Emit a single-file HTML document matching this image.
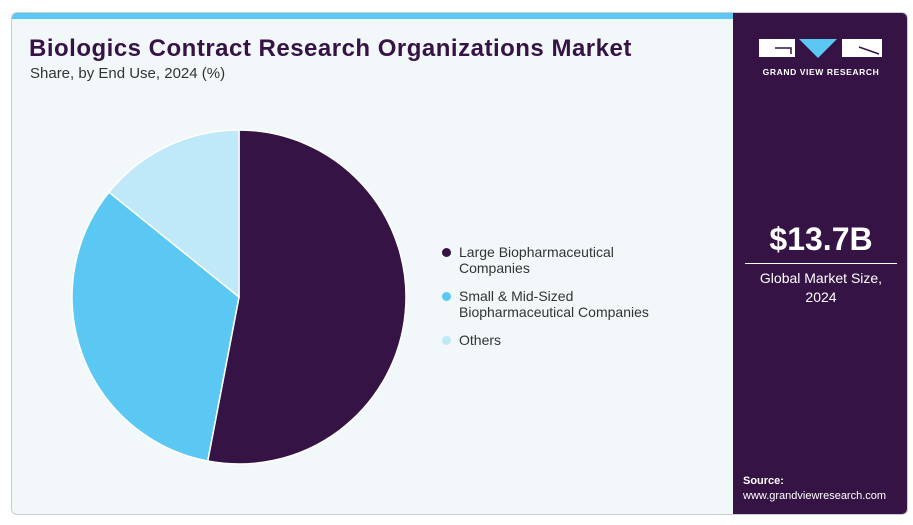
<!DOCTYPE html>
<html><head><meta charset="utf-8"><style>
body{margin:0;width:913px;height:525px;background:#fff;font-family:"Liberation Sans",sans-serif;overflow:hidden;position:relative}
#card{position:absolute;left:11px;top:12px;width:897px;height:503px;border:1px solid #c9ccd0;border-radius:6px;background:#f2f7fa;overflow:hidden;box-sizing:border-box}
#bar{position:absolute;left:0;top:0;width:721px;height:6px;background:#5ac8f2}
#side{position:absolute;left:721px;top:0;width:176px;height:503px;background:#361345;color:#fff}
h1{position:absolute;left:17px;top:22px;margin:0;font-size:24px;font-weight:900;color:#361345;white-space:nowrap;letter-spacing:0.5px}
#sub{position:absolute;left:18px;top:52px;font-size:15px;color:#333}
.leg{position:absolute;left:430px;font-size:14px;color:#333;line-height:16px}
.dot{position:absolute;left:0;top:4px;width:9px;height:9px;border-radius:50%}
.leg span.t{display:block;margin-left:17px}
</style></head><body>
<div id="card">
<div id="bar"></div>
<h1>Biologics Contract Research Organizations Market</h1>
<div id="sub">Share, by End Use, 2024 (%)</div>
<svg id="pie" width="720" height="503" style="position:absolute;left:0;top:0"></svg>
<div class="leg" style="top:231px"><div class="dot" style="background:#361345"></div><span class="t">Large Biopharmaceutical<br>Companies</span></div>
<div class="leg" style="top:275px"><div class="dot" style="background:#5ac8f2"></div><span class="t">Small &amp; Mid-Sized<br>Biopharmaceutical Companies</span></div>
<div class="leg" style="top:319px"><div class="dot" style="background:#bfe8f8"></div><span class="t">Others</span></div>
<div id="side">
<svg width="176" height="60" style="position:absolute;left:0;top:20px">
<rect x="26" y="6" width="36" height="18" fill="#fff"/><path d="M42 15 H58 V21" stroke="#361345" stroke-width="1.5" fill="none"/>
<polygon points="66,6 104,6 85,25" fill="#5ac8f2"/>
<rect x="109" y="6" width="40" height="18" fill="#fff"/><path d="M126 14 L146 21" stroke="#361345" stroke-width="1.5"/>
<text x="88" y="42" font-size="8.5" font-weight="bold" fill="#fff" text-anchor="middle" font-family="Liberation Sans" letter-spacing="0.6">GRAND VIEW RESEARCH</text>
</svg>
<div style="position:absolute;left:0;width:176px;top:208px;text-align:center;font-size:32px;font-weight:bold">$13.7B</div>
<div style="position:absolute;left:12px;width:152px;top:250px;border-top:1px solid #fff"></div>
<div style="position:absolute;left:0;width:176px;top:256px;text-align:center;font-size:14px;line-height:19px">Global Market Size,<br>2024</div>
<div style="position:absolute;left:10px;top:461px;font-size:11px;line-height:15px"><b>Source:</b><br>www.grandviewresearch.com</div>
</div>
</div>
<script>
const categories=["Large Biopharmaceutical Companies","Small & Mid-Sized Biopharmaceutical Companies","Others"];
const values=[53.0,32.8,14.2];
const colors=["#361345","#5ac8f2","#bfe8f8"];
const svg=document.getElementById('pie');
const cx=227,cy=284,r=167;
const total=values.reduce((a,b)=>a+b,0);
let a0=0;
values.forEach((v,i)=>{
 const a1=a0+v/total*2*Math.PI;
 const x0=cx+r*Math.sin(a0),y0=cy-r*Math.cos(a0),x1=cx+r*Math.sin(a1),y1=cy-r*Math.cos(a1);
 const p=document.createElementNS('http://www.w3.org/2000/svg','path');
 p.setAttribute('d',`M${cx},${cy} L${x0},${y0} A${r},${r} 0 ${a1-a0>Math.PI?1:0} 1 ${x1},${y1} Z`);
 p.setAttribute('fill',colors[i]);p.setAttribute('stroke','#fff');p.setAttribute('stroke-width','1.5');
 
 
 svg.appendChild(p);a0=a1;
});
</script>
</body></html>
